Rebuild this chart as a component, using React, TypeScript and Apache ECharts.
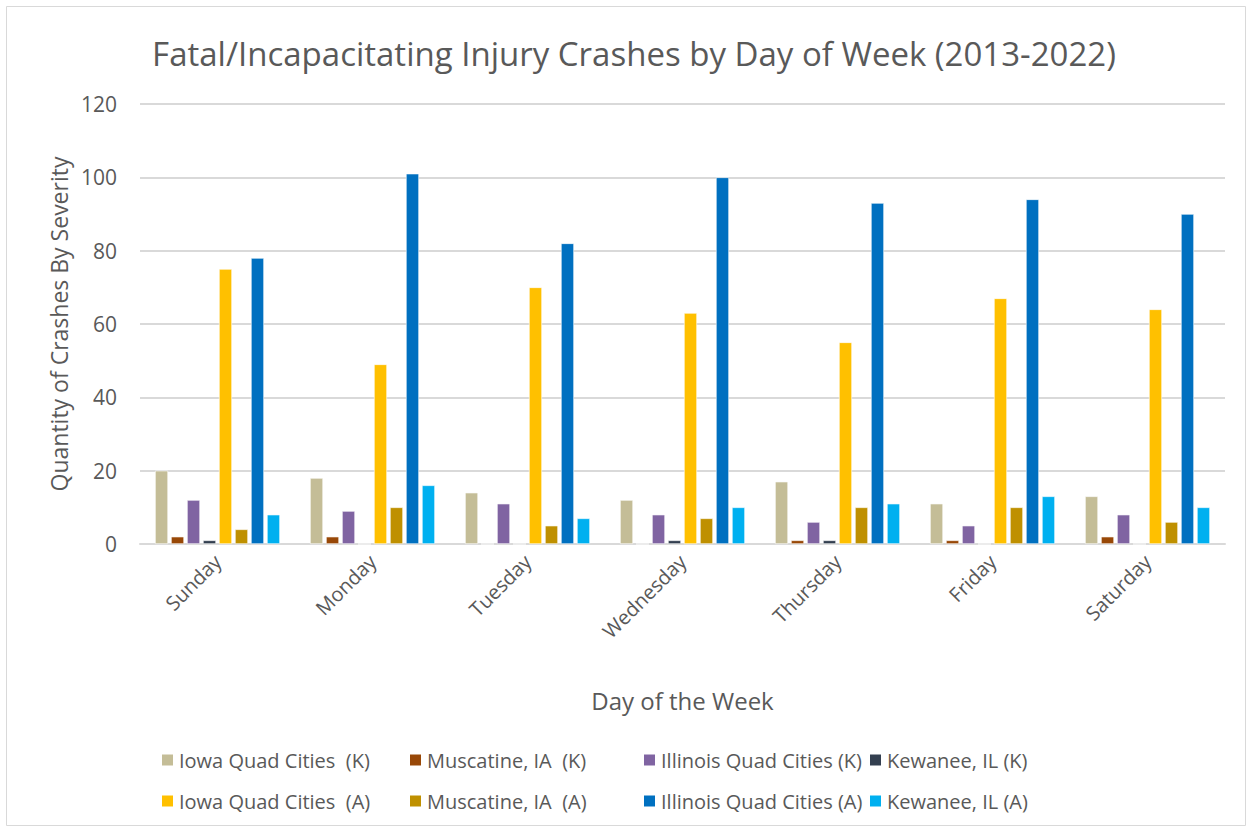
import React, { useEffect, useRef } from "react";
import * as echarts from "echarts";

const days = ["Sunday", "Monday", "Tuesday", "Wednesday", "Thursday", "Friday", "Saturday"];
const seriesNames = [
  "Iowa Quad Cities  (K)",
  "Muscatine, IA  (K)",
  "Illinois Quad Cities (K)",
  "Kewanee, IL (K)",
  "Iowa Quad Cities  (A)",
  "Muscatine, IA  (A)",
  "Illinois Quad Cities (A)",
  "Kewanee, IL (A)",
];
const colors = ["#C4BD97", "#984807", "#8064A2", "#333F50", "#FFC000", "#BF9000", "#0070C0", "#00B0F0"];
const iowaK = [20, 18, 14, 12, 17, 11, 13];
const muscatineK = [2, 2, 0, 0, 1, 1, 2];
const illinoisK = [12, 9, 11, 8, 6, 5, 8];
const kewaneeK = [1, 0, 0, 1, 1, 0, 0];
const iowaA = [75, 49, 70, 63, 55, 67, 64];
const muscatineA = [4, 10, 5, 7, 10, 10, 6];
const illinoisA = [78, 101, 82, 100, 93, 94, 90];
const kewaneeA = [8, 16, 7, 10, 11, 13, 10];
const yTicks = [0, 20, 40, 60, 80, 100, 120];

const FONT = "'Open Sans', 'Noto Sans', sans-serif";
const GRAY = "#595959";

export default function App() {
  const ref = useRef<HTMLDivElement>(null);
  useEffect(() => {
    if (!ref.current) return;
    const chart = echarts.init(ref.current, null, { renderer: "svg" });
    const data = [iowaK, muscatineK, illinoisK, kewaneeK, iowaA, muscatineA, illinoisA, kewaneeA];
    const legendCols = [155, 403, 637, 863];
    const legends = legendCols.map((left, i) => ({
      left,
      top: 745,
      orient: "vertical" as const,
      itemGap: 21,
      itemWidth: 13,
      itemHeight: 13,
      icon: "rect",
      data: [seriesNames[i], seriesNames[i + 4]],
      textStyle: { color: GRAY, fontSize: 20, fontFamily: FONT },
      selectedMode: false,
    }));
    chart.setOption({
      animation: false,
      backgroundColor: "#fff",
      title: {
        text: "Fatal/Incapacitating Injury Crashes by Day of Week (2013-2022)",
        left: 629,
        textAlign: "center",
        top: 32,
        textStyle: { color: GRAY, fontSize: 33, fontWeight: "normal", fontFamily: FONT },
      },
      graphic: [
        {
          type: "rect",
          shape: { x: 6.5, y: 6.5, width: 1239, height: 819 },
          style: { fill: "none", stroke: "#d9d9d9", lineWidth: 1 },
        },
      ],
      legend: legends,
      grid: { left: 140, right: 27, top: 104, bottom: 288, containLabel: false },
      xAxis: {
        type: "category",
        data: days,
        name: "Day of the Week",
        nameLocation: "middle",
        nameGap: 144,
        nameTextStyle: { color: GRAY, fontSize: 24, fontFamily: FONT },
        axisLine: { lineStyle: { color: "#d9d9d9", width: 2 } },
        axisTick: { show: false },
        axisLabel: { rotate: 45, color: GRAY, fontSize: 20, fontFamily: FONT, margin: 14 },
      },
      yAxis: {
        type: "value",
        min: 0,
        max: 120,
        interval: 20,
        name: "Quantity of Crashes By Severity",
        nameLocation: "middle",
        nameGap: 70,
        nameTextStyle: { color: GRAY, fontSize: 23, fontFamily: FONT },
        axisLabel: {
          color: GRAY,
          fontSize: 21,
          fontFamily: FONT,
          margin: 23,
          formatter: (v: number) => (yTicks.includes(v) ? String(v) : ""),
        },
        splitLine: { lineStyle: { color: "#d9d9d9", width: 2 } },
        axisLine: { show: false },
      },
      series: data.map((d, i) => ({
        name: seriesNames[i],
        type: "bar",
        data: d,
        barWidth: 13,
        barGap: "23%",
        itemStyle: { color: colors[i], borderColor: "#ffffff", borderWidth: 0.6 },
      })),
    });
    return () => chart.dispose();
  }, []);
  return (
    <div
      ref={ref}
      style={{ position: "absolute", left: 0, top: 0, width: 1252, height: 832, background: "#fff" }}
    />
  );
}
